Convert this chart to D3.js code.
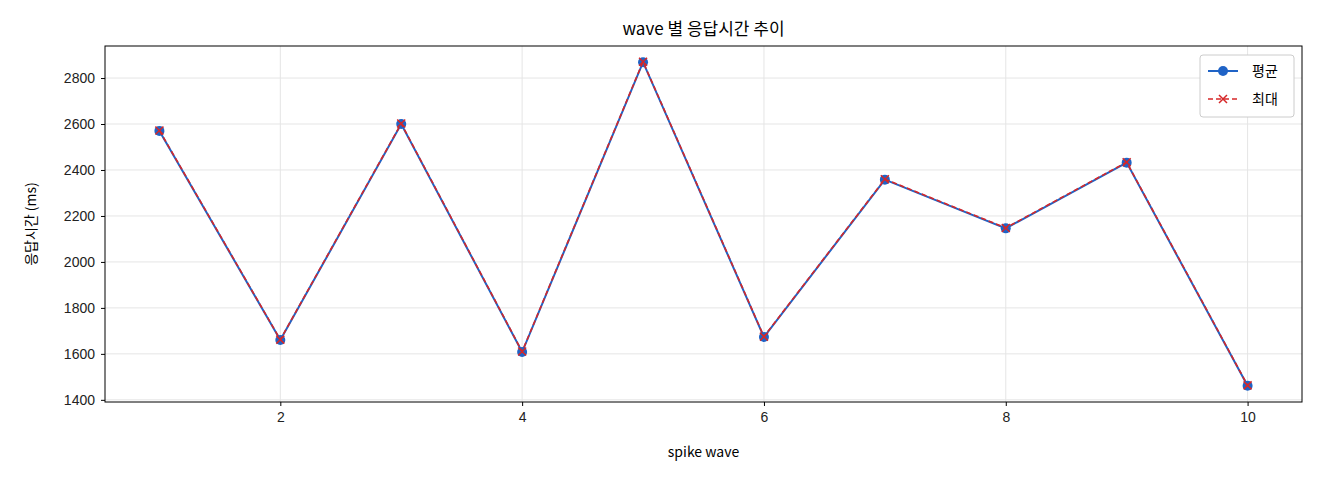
<!DOCTYPE html>
<html><head><meta charset="utf-8">
<script src="https://cdn.jsdelivr.net/npm/d3@7"></script>
<style>body{margin:0;background:#fff}svg{font-family:"Noto Sans CJK KR","Noto Sans",sans-serif}</style>
</head><body><svg id="c" width="1320" height="480"></svg>
<script>
const waves=[1,2,3,4,5,6,7,8,9,10];
const avgMs=[2570,1660,2600,1608,2869,1673,2358,2146,2432,1461];
const maxMs=[2572,1662,2602,1610,2871,1675,2360,2148,2434,1463];
const xTicks=[2,4,6,8,10];
const yTicks=[1400,1600,1800,2000,2200,2400,2600,2800];
const svg=d3.select("#c");
const L=105,R=1302,T=46,B=402;
const x=d3.scaleLinear().domain([0.55,10.45]).range([L,R]);
const y=d3.scaleLinear().domain([1390.6,2939.4]).range([B,T]);
const g=svg.append("g");
g.selectAll(".gx").data(xTicks).join("line").attr("x1",d=>x(d)).attr("x2",d=>x(d)).attr("y1",T).attr("y2",B).attr("stroke","#e5e5e5");
g.selectAll(".gy").data(yTicks).join("line").attr("y1",d=>y(d)).attr("y2",d=>y(d)).attr("x1",L).attr("x2",R).attr("stroke","#e5e5e5");
const xa=svg.append("g").attr("transform",`translate(0,${B})`).call(d3.axisBottom(x).tickValues(xTicks).tickFormat(d3.format("d")).tickSize(4).tickPadding(6));
const ya=svg.append("g").attr("transform",`translate(${L},0)`).call(d3.axisLeft(y).tickValues(yTicks).tickFormat(d3.format("d")).tickSize(4).tickPadding(6));
[xa,ya].forEach(a=>{a.select(".domain").remove();a.selectAll("text").attr("font-size",14).attr("fill","#222");});
svg.append("rect").attr("x",L).attr("y",T).attr("width",R-L).attr("height",B-T).attr("fill","none").attr("stroke","#000");
const line=d3.line().x((d,i)=>x(waves[i])).y(d=>y(d));
svg.append("path").datum(avgMs).attr("d",line).attr("fill","none").attr("stroke","#1f63c6").attr("stroke-width",2);
svg.selectAll(".pt").data(avgMs).join("circle").attr("cx",(d,i)=>x(waves[i])).attr("cy",d=>y(d)).attr("r",5).attr("fill","#1f63c6");
svg.append("path").datum(maxMs).attr("d",line).attr("fill","none").attr("stroke","#d62728").attr("stroke-width",1.6).attr("stroke-dasharray","5,3");
const xm=(cx,cy,s)=>`M${cx-s},${cy-s}L${cx+s},${cy+s}M${cx-s},${cy+s}L${cx+s},${cy-s}`;
svg.selectAll(".xm").data(maxMs).join("path").attr("d",(d,i)=>xm(x(waves[i]),y(d),4)).attr("stroke","#d62728").attr("stroke-width",1.5);
svg.append("text").attr("x",(L+R)/2).attr("y",35).attr("text-anchor","middle").attr("font-size",17).text("wave 별 응답시간 추이");
svg.append("text").attr("x",(L+R)/2).attr("y",457).attr("text-anchor","middle").attr("font-size",14).text("spike wave");
svg.append("text").attr("transform",`translate(36,${(T+B)/2}) rotate(-90)`).attr("text-anchor","middle").attr("font-size",14).text("응답시간 (ms)");
const lg=svg.append("g").attr("transform","translate(1200,55)");
lg.append("rect").attr("width",94).attr("height",62).attr("rx",3).attr("fill","#fff").attr("stroke","#ccc");
lg.append("line").attr("x1",8).attr("x2",38).attr("y1",16).attr("y2",16).attr("stroke","#1f63c6").attr("stroke-width",2);
lg.append("circle").attr("cx",23).attr("cy",16).attr("r",5).attr("fill","#1f63c6");
lg.append("text").attr("x",52).attr("y",21).attr("font-size",14).text("평균");
lg.append("line").attr("x1",8).attr("x2",38).attr("y1",44).attr("y2",44).attr("stroke","#d62728").attr("stroke-width",1.6).attr("stroke-dasharray","5,3");
lg.append("path").attr("d",xm(23,44,4)).attr("stroke","#d62728").attr("stroke-width",1.5);
lg.append("text").attr("x",52).attr("y",49).attr("font-size",14).text("최대");
</script></body></html>
